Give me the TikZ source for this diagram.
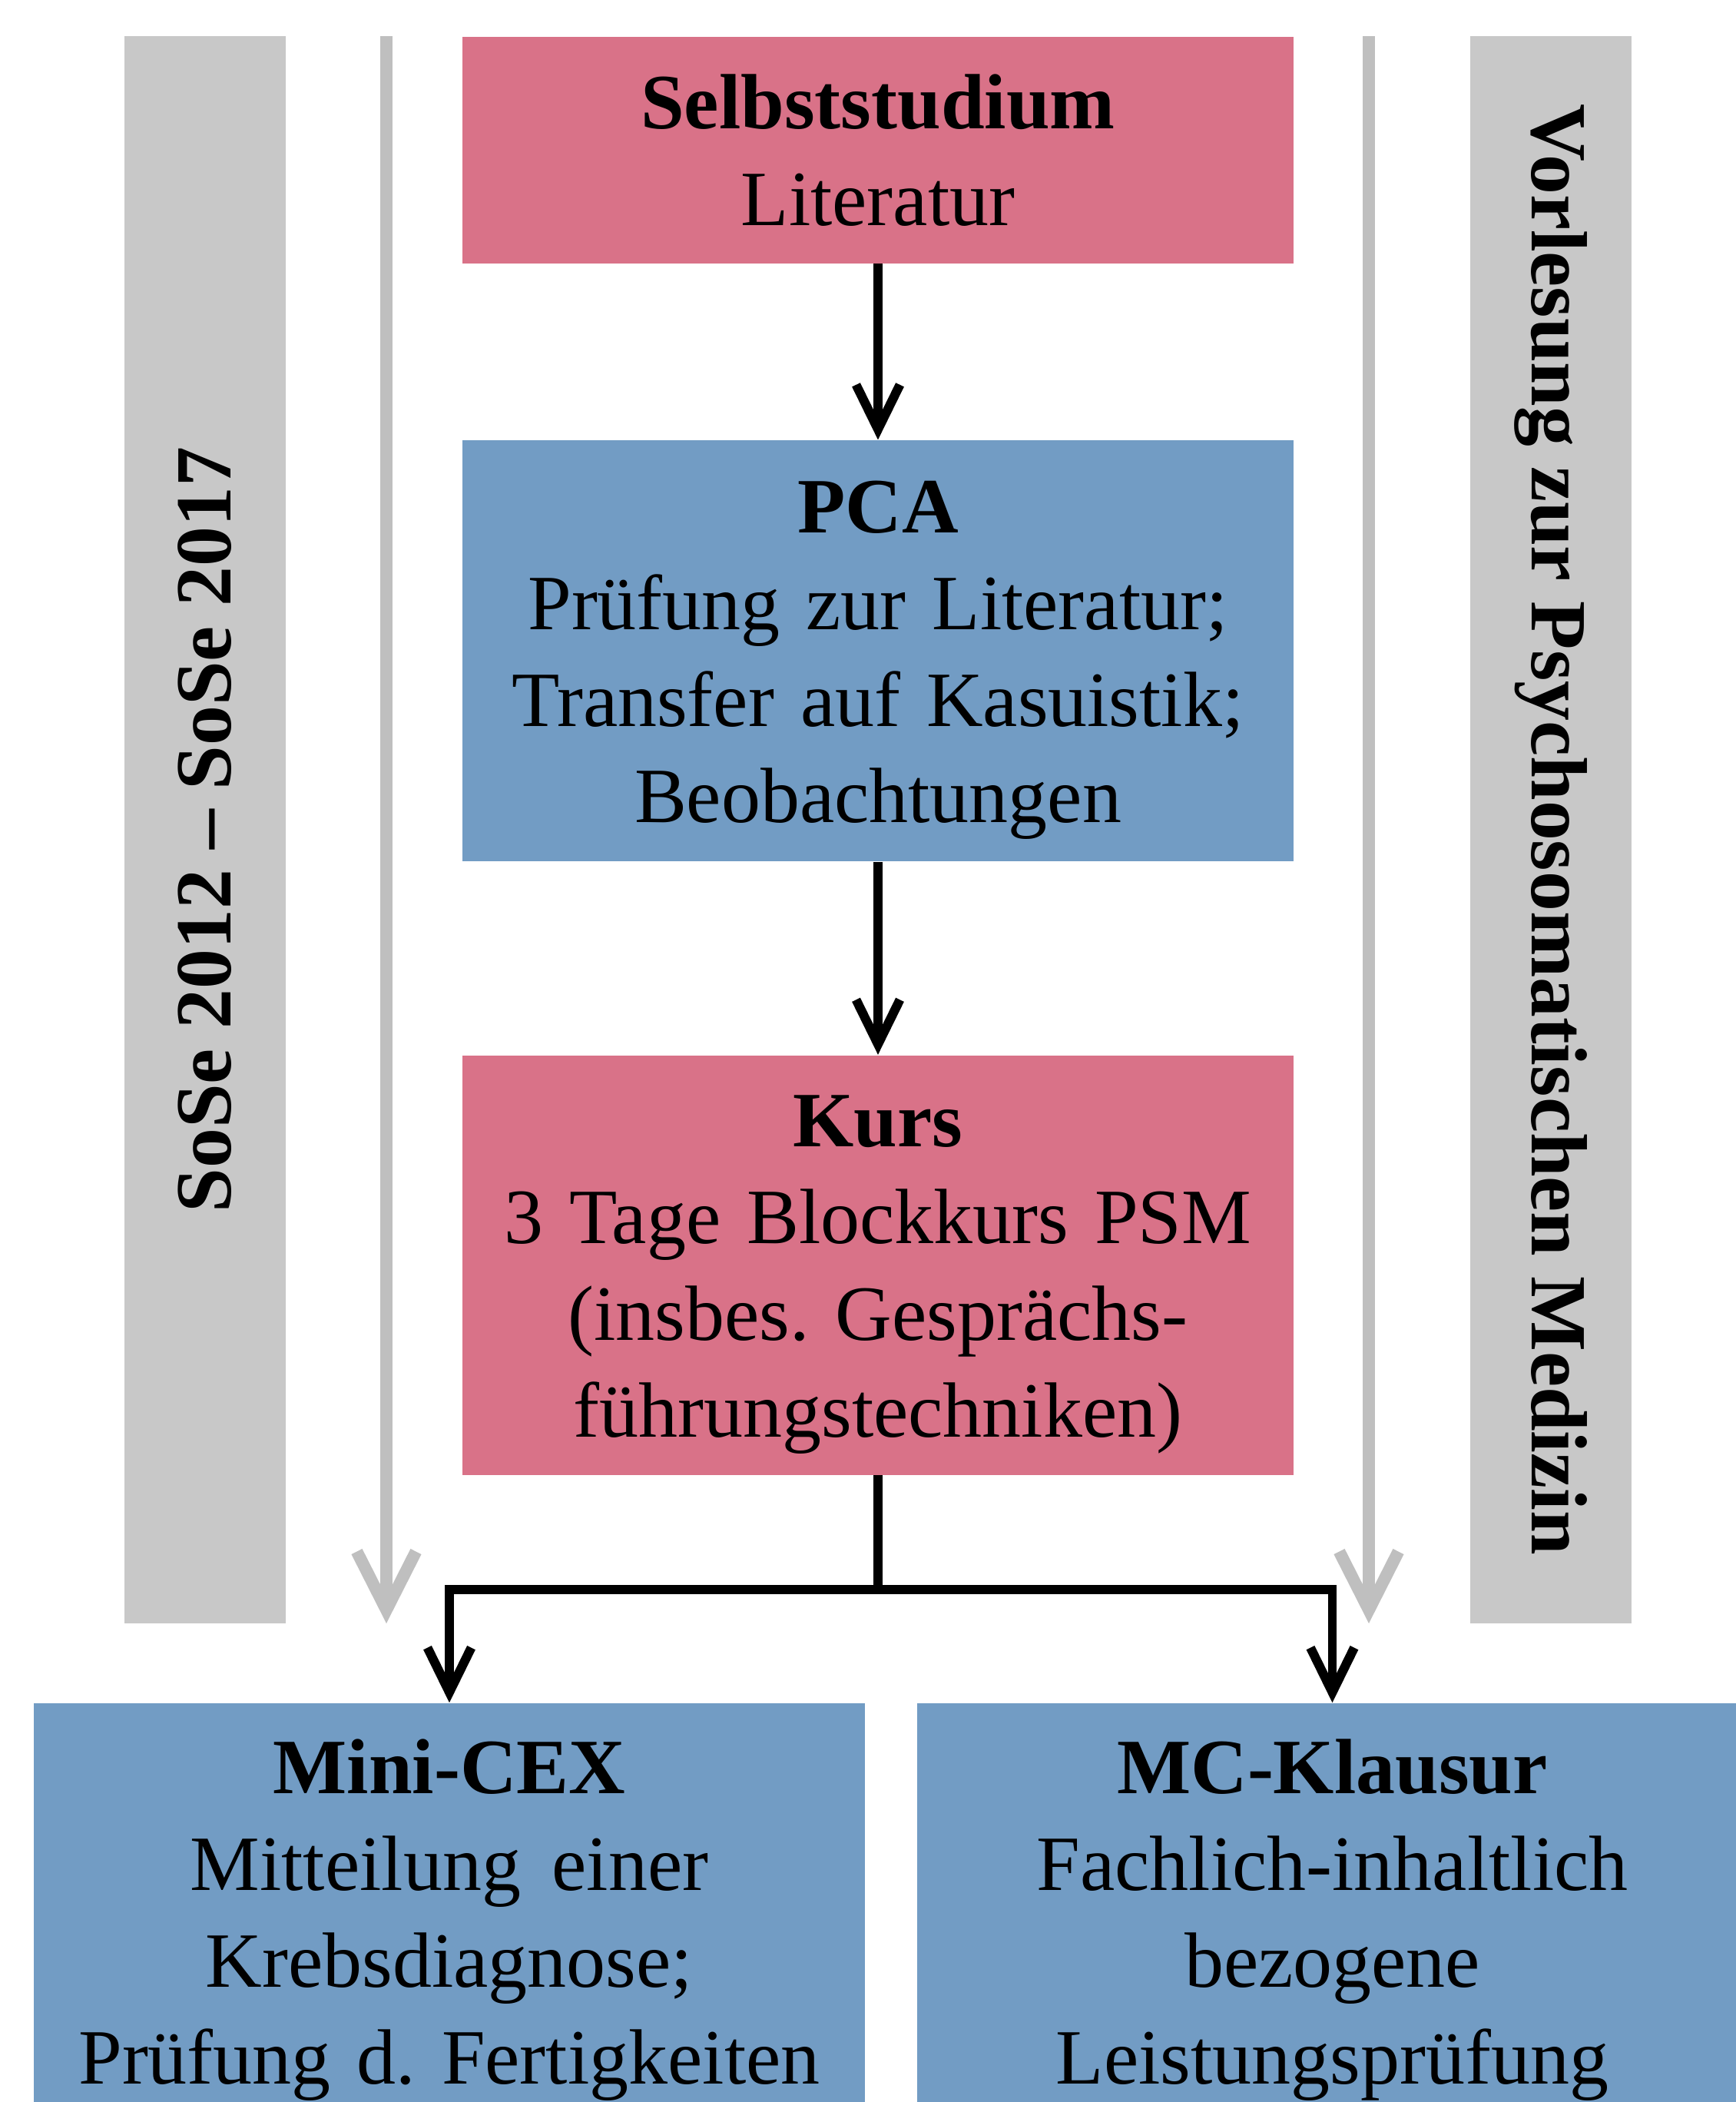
\documentclass[tikz,border=0pt]{standalone}
\usepackage{fontspec}
\setmainfont{Liberation Serif}
\usetikzlibrary{positioning, arrows.meta, calc}
\definecolor{boxrot}{RGB}{217,114,136}
\definecolor{boxblau}{RGB}{114,156,196}
\definecolor{bandgrau}{RGB}{200,200,200}
\definecolor{pfeilgrau}{RGB}{191,191,191}
\newcommand{\zs}{\rule[-6.4pt]{0pt}{32.7pt}} % strut like the line box of the slide
\frenchspacing
\tikzset{
  ablauf/.style={
	node distance=2.5cm, % gap between the boxes
	every node/.style={font=\fontsize{29}{35.8}\selectfont, inner sep=0pt}, % text of all boxes
  },
  kasten/.style={minimum width=10.82cm, text width=10.6cm, align=center},
  rotkasten/.style={kasten, fill=boxrot},
  blaukasten/.style={kasten, fill=boxblau},
  band/.style={fill=bandgrau, minimum width=20.66cm, minimum height=2.10cm, font=\fontsize{29.5}{35.8}\selectfont\bfseries},
  pfeil/.style={-{Straight Barb[length=5.8mm,width=5.7mm]}, line width=3.4pt}, % black arrows
  zeitpfeil/.style={-{Straight Barb[length=7.6mm,width=7.7mm]}, line width=4.5pt, draw=pfeilgrau}, % grey arrows
}

\begin{document}
\begin{tikzpicture}[ablauf]
	\path[use as bounding box, fill=white] (0,0) rectangle (22.6,-27.36);

	% side bands
	\node[band, rotate=90] (semester) at (2.67,-10.80) {SoSe 2012 -- SoSe 2017};
	\node[band, rotate=-90] (vorlesung) at (20.19,-10.80) {Vorlesung zur Psychosomatischen Medizin};
	\coordinate (semoben) at (5.03,-0.47);
	\coordinate (semunten) at (5.03,-21.13);
	\coordinate (voroben) at (17.82,-0.47);
	\coordinate (vorunten) at (17.82,-21.13);

	% boxes
	\node[rotkasten, minimum height=2.95cm, anchor=north] (selbst) at (11.43,-0.47) {\textbf{\zs Selbststudium}\\Literatur\zs};
	\node[blaukasten, minimum height=5.48cm, below=2.29cm of selbst] (pca) {\textbf{\zs PCA}\\Prüfung zur Literatur;\\Transfer auf Kasuistik;\\Beobachtungen\zs};
	\node[rotkasten, minimum height=5.46cm, below=2.51cm of pca] (kurs) {\textbf{\zs Kurs}\\3 Tage Blockkurs PSM\\(insbes. Gesprächs-\\führungstechniken)\zs};
	\node[blaukasten, minimum height=5.43cm, below=2.96cm of kurs, xshift=-5.58cm] (minicex) {\textbf{\zs Mini-CEX}\\Mitteilung\hspace{0.4em}einer\\Krebsdiagnose;\\Prüfung d. Fertigkeiten\zs};
	\node[blaukasten, minimum height=5.43cm, below=2.96cm of kurs, xshift=5.915cm] (mcklausur) {\textbf{\zs MC-Klausur}\\Fachlich-inhaltlich\\bezogene\\Leistungsprüfung\zs};
	\coordinate (verteiler) at ($(kurs.south)+(0,-1.49)$);

	\draw[zeitpfeil] (semoben) -- (semunten);
	\draw[zeitpfeil] (voroben) -- (vorunten);
	\draw[pfeil] (selbst) -- (pca);
	\draw[pfeil] (pca) -- (kurs);
	\draw[pfeil] (kurs.south) -- (verteiler) -| (minicex.north);
	\draw[pfeil] (verteiler) -| (mcklausur.north);
\end{tikzpicture}
\end{document}
